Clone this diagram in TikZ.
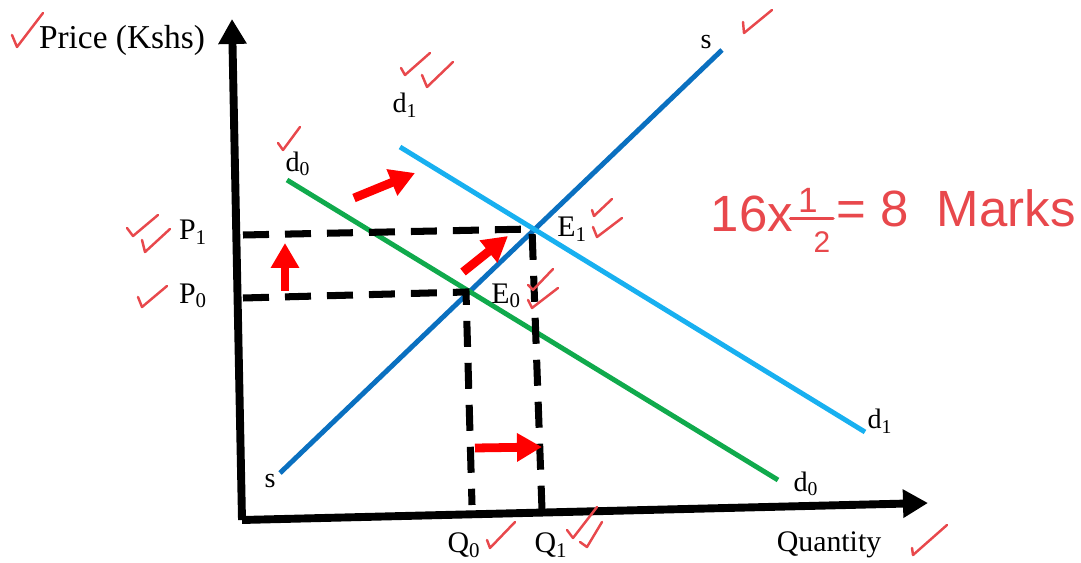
\documentclass[tikz,border=0pt]{standalone}
\usepackage{fontspec}
\setmainfont{Liberation Serif}
\newfontfamily\handfont{Liberation Sans}
\usetikzlibrary{positioning,arrows.meta}
\usepackage{xcolor}
\definecolor{supblue}{RGB}{10,112,192}
\definecolor{dnewblue}{RGB}{24,176,240}
\definecolor{doldgreen}{RGB}{16,170,76}
\definecolor{shiftred}{RGB}{255,0,0}
\definecolor{penred}{RGB}{232,72,76}
\tikzset{
  axisline/.style={
    line width=4.5pt,
    -{Triangle[length=0.5cm,width=0.54cm]}
  },
  curveline/.style={
    line width=2.8pt
  },
  guideline/.style={
    line width=4pt,
    dash pattern=on 0.52cm off 0.32cm
  },
  shiftarrow/.style={
    line width=5pt,
    draw=shiftred,
    -{Triangle[length=0.5cm,width=0.54cm]}
  },
  penstroke/.style={
    draw=penred,
    line width=1.4pt,
    line cap=round,
    line join=round
  },
  handtxt/.style={
    inner sep=0pt,
    text=penred,
    font=\handfont\fontsize{29}{33}\selectfont
  },
  lbl/.style={
    inner sep=0pt,
    font=\fontsize{17}{20}\selectfont
  },
  curvelbl/.style={
    inner sep=0pt,
    font=\fontsize{16}{19}\selectfont
  }
}
\newcommand{\tickmark}[3]{\draw[penstroke] (#1) -- (#2) -- (#3);}

\begin{document}
\begin{tikzpicture}[x=0.02cm,y=-0.02cm]
    \useasboundingbox (0,0) rectangle (1081,563);

    % axes
    \coordinate (origin) at (242,520);
    \coordinate (ytop) at (232,19);
    \coordinate (xend) at (928,503);
    \draw[axisline] (origin) -- (ytop);
    \draw[axisline] (origin) -- (xend);
    \node (price) [lbl, font=\fontsize{19}{22}\selectfont] at (122,40) {Price (Kshs)};
    \node (quantity) [lbl] at (829,545) {Quantity};

    % supply and demand curves
    \coordinate (s0) at (280,473);
    \coordinate (s1) at (722,50);
    \coordinate (dold0) at (287,180);
    \coordinate (dold1) at (778,480);
    \coordinate (dnew0) at (400,147);
    \coordinate (dnew1) at (865,432);
    \draw[curveline, draw=supblue] (s0) -- (s1);
    \draw[curveline, draw=doldgreen] (dold0) -- (dold1);
    \draw[curveline, draw=dnewblue] (dnew0) -- (dnew1);
    \node (slow) [curvelbl] at (270,481) {s};
    \node (shigh) [curvelbl] at (706,42) {s};
    \node (doldhigh) [curvelbl] at (298,164) {d\textsubscript{0}};
    \node (doldlow) [curvelbl] at (806,484) {d\textsubscript{0}};
    \node (dnewhigh) [curvelbl] at (405,105) {d\textsubscript{1}};
    \node (dnewlow) [curvelbl] at (880,421) {d\textsubscript{1}};

    % equilibrium points and guide lines
    \coordinate (E0) at (466,292);
    \coordinate (E1) at (532,229);
    \coordinate (P0ax) at (243,298);
    \coordinate (P1ax) at (243,235);
    \coordinate (Q0ax) at (472,505);
    \coordinate (Q1ax) at (542,510);
    \draw[guideline] (P1ax) -- (E1) -- (Q1ax);
    \draw[guideline] (P0ax) -- (E0) -- (Q0ax);
    \node (lblE1) [lbl, right=0.5cm of E1] {E\textsubscript{1}};
    \node (lblE0) [lbl, right=0.5cm of E0, yshift=-0.08cm] {E\textsubscript{0}};
    \node (lblP1) [lbl] at (193,232) {P\textsubscript{1}};
    \node (lblP0) [lbl] at (193,296) {P\textsubscript{0}};
    \node (lblQ0) [lbl] at (464,545) {Q\textsubscript{0}};
    \node (lblQ1) [lbl] at (551,545) {Q\textsubscript{1}};

    % shift arrows
    \coordinate (up0) at (285,291);
    \coordinate (up1) at (285,243);
    \coordinate (dsh0) at (354,198);
    \coordinate (dsh1) at (415,173);
    \coordinate (esh0) at (463,272);
    \coordinate (esh1) at (508,236);
    \coordinate (qsh0) at (475,448);
    \coordinate (qsh1) at (542,447);
    \draw[shiftarrow] (up0) -- (up1);
    \draw[shiftarrow] (dsh0) -- (dsh1);
    \draw[shiftarrow] (esh0) -- (esh1);
    \draw[shiftarrow] (qsh0) -- (qsh1);

    % marking
    \tickmark{12,35}{17,47}{43,13}
    \tickmark{743,22}{744,33}{772,10}
    \tickmark{401,68}{405,75}{430,53}
    \tickmark{422,75}{427,87}{453,62}
    \tickmark{278,143}{283,150}{300,127}
    \tickmark{127,228}{133,236}{158,215}
    \tickmark{142,240}{145,252}{170,229}
    \tickmark{138,297}{142,307}{167,286}
    \tickmark{592,210}{594,216}{612,199}
    \tickmark{593,227}{597,237}{622,218}
    \tickmark{528,285}{533,290}{553,269}
    \tickmark{528,300}{532,308}{558,288}
    \tickmark{487,540}{490,548}{515,522}
    \tickmark{567,530}{573,538}{597,507}
    \tickmark{580,542}{587,547}{602,522}
    \tickmark{912,548}{913,555}{947,525}
    \node (marks16) [handtxt] at (752,214) {16x};
    \node (halfone) [handtxt, font=\handfont\fontsize{20}{22}\selectfont] at (808,200) {1};
    \node (halftwo) [handtxt, font=\handfont\fontsize{17}{19}\selectfont] at (822,242) {2};
    \draw[penstroke, line width=2pt] ([xshift=-0.35cm,yshift=-0.12cm]halfone.south) -- ([xshift=0.5cm,yshift=-0.12cm]halfone.south);
    \node (marksrest) [handtxt, anchor=east] at (1076,208) {= 8 \ Marks};
\end{tikzpicture}
\end{document}
